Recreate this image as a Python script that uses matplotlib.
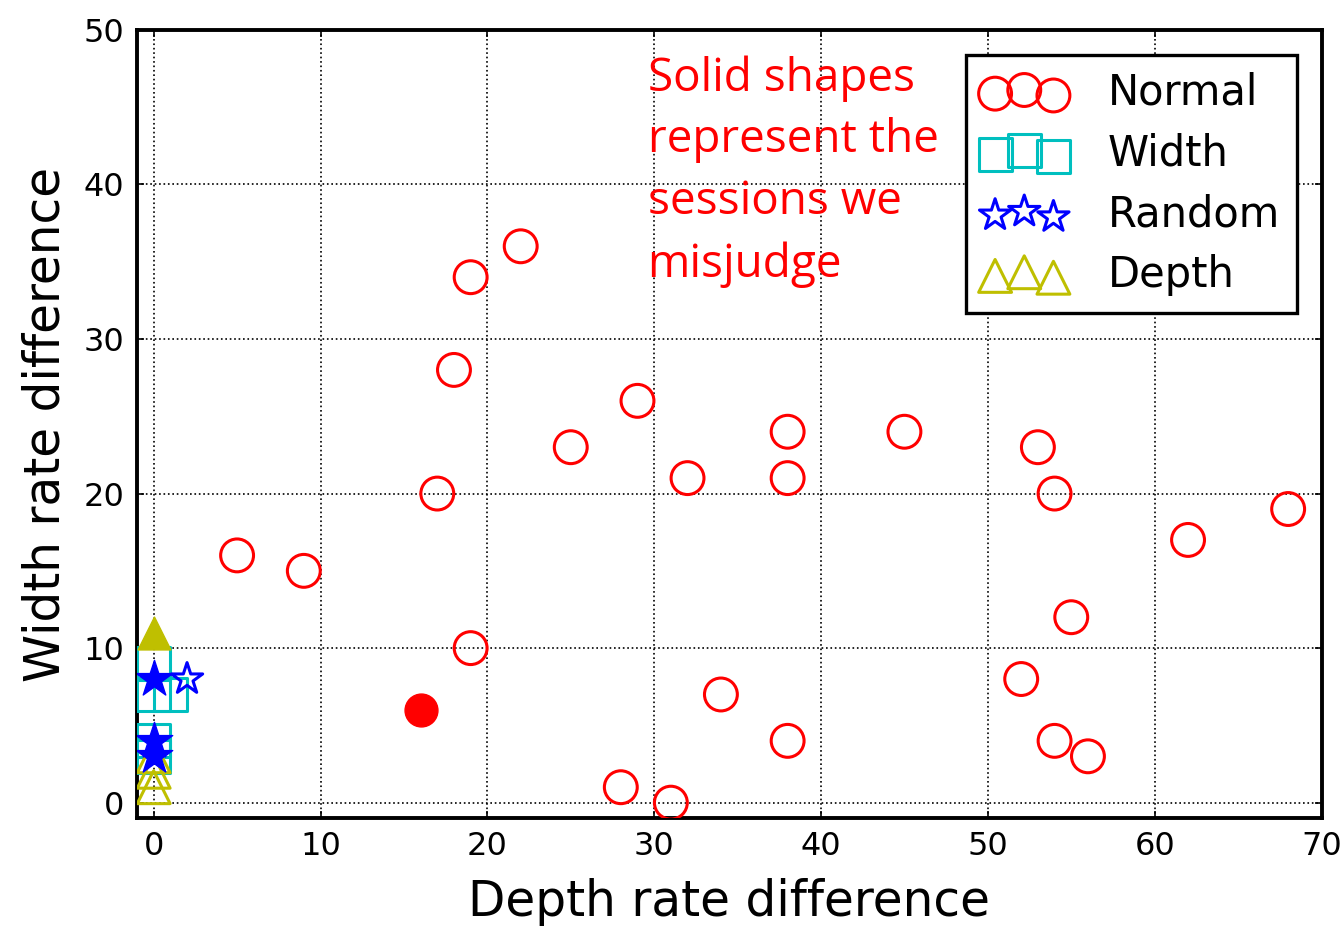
import matplotlib
matplotlib.use("Agg")
import matplotlib.pyplot as plt

# Normal sessions (open red circles)
normal_x = [5, 9, 17, 18, 19, 22, 19, 25, 29, 32, 28, 31, 34, 38, 38, 38, 45, 53, 54, 55, 52, 54, 56, 62, 68]
normal_y = [16, 15, 20, 28, 34, 36, 10, 23, 26, 21, 1, 0, 7, 24, 21, 4, 24, 23, 20, 12, 8, 4, 3, 17, 19]
normal_miss_x = [16]
normal_miss_y = [6]

# Width attack
width_x = [0, 0, 1, 0, 0]
width_y = [9, 7, 7, 4, 3]

# Random attack
random_x = [2]
random_y = [8]
random_miss_x = [0, 0, 0]
random_miss_y = [8, 4, 3]

# Depth attack
depth_x = [0, 0, 0]
depth_y = [3, 2, 1]
depth_miss_x = [0]
depth_miss_y = [11]

plt.rcParams['font.family'] = 'DejaVu Sans'
fig = plt.figure(figsize=(13.43, 9.35), dpi=100)
ax = fig.add_axes([0.102, 0.125, 0.882, 0.843])

ms = 560
lw = 2.2
ax.scatter(normal_x, normal_y, s=ms, marker='o', facecolors='none', edgecolors='r', linewidths=lw, label='Normal', zorder=3)
ax.scatter(width_x, width_y, s=ms, marker='s', facecolors='none', edgecolors='c', linewidths=lw, label='Width', zorder=3)
ax.scatter(random_x, random_y, s=ms, marker='*', facecolors='none', edgecolors='b', linewidths=lw, label='Random', zorder=4)
ax.scatter(depth_x, depth_y, s=ms, marker='^', facecolors='none', edgecolors='y', linewidths=lw, label='Depth', zorder=3)

ax.scatter(normal_miss_x, normal_miss_y, s=ms, marker='o', color='r', zorder=4)
ax.scatter(random_miss_x, random_miss_y, s=760, marker='*', color='b', zorder=4)
ax.scatter(depth_miss_x, depth_miss_y, s=ms, marker='^', color='y', zorder=4)

ax.set_xlim(-1, 70)
ax.set_ylim(-1, 50)
ax.set_xticks(range(0, 71, 10))
ax.set_yticks(range(0, 51, 10))
ax.tick_params(labelsize=23, length=5, width=1.2, direction='in', pad=9, top=True, right=True)
ax.grid(True, color='k', linestyle=':', linewidth=1.2)
for sp in ax.spines.values():
    sp.set_linewidth(2.8)

ax.set_xlabel('Depth rate difference', fontsize=35, labelpad=12)
ax.set_ylabel('Width rate difference', fontsize=35, labelpad=10)

ax.text(0.431, 0.968, 'Solid shapes\nrepresent the\nsessions we\nmisjudge', transform=ax.transAxes,
        color='red', fontsize=33, va='top', ha='left', linespacing=1.45, family='Open Sans')

leg = ax.legend(loc='upper right', scatterpoints=3, scatteryoffsets=[0.375, 0.5, 0.3125],
                fontsize=30, fancybox=False, framealpha=1, borderpad=0.4, labelspacing=0.45,
                handletextpad=1.0, handlelength=2.0, borderaxespad=0.6)
leg.get_frame().set_edgecolor('k')
leg.get_frame().set_linewidth(2.4)

fig.savefig('out.png', dpi=100)
